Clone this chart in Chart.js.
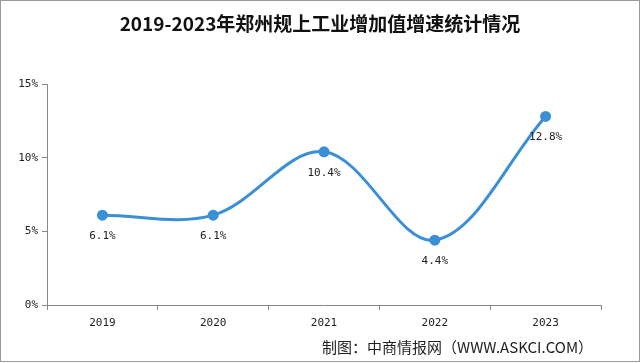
<!DOCTYPE html>
<html>
<head>
<meta charset="utf-8">
<script src="https://cdn.jsdelivr.net/npm/chart.js@4.4.0/dist/chart.umd.min.js"></script>
<style>
  html, body { margin: 0; padding: 0; background: #fff; }
  #wrap { position: relative; width: 640px; height: 363px; }
</style>
</head>
<body>
<div id="wrap"><canvas id="growthChart" width="640" height="363"></canvas></div>
<script>
const years = ['2019', '2020', '2021', '2022', '2023'];
const growth = [6.1, 6.1, 10.4, 4.4, 12.8];
const yTicks = [0, 5, 10, 15];
const titleText = '2019-2023年郑州规上工业增加值增速统计情况';
const sourceText = '制图：中商情报网（WWW.ASKCI.COM）';

const lineBlue = '#3a8fd6';
const monoFont = '"DejaVu Sans Mono", "Liberation Mono", monospace';

// title, source line, frame and the value labels under each point
const decor = {
    id: 'decor',
    afterDraw(chart) {
        const ctx = chart.ctx;
        ctx.save();
        ctx.strokeStyle = '#9a9a9a';
        ctx.lineWidth = 1;
        ctx.strokeRect(0.5, 0.5, 639, 361);

        ctx.fillStyle = '#111';
        ctx.textAlign = 'center';
        ctx.textBaseline = 'middle';
        ctx.font = 'bold 19px "Noto Sans CJK SC", sans-serif';
        ctx.fillText(titleText, 320, 24);

        ctx.font = '15px "Noto Sans CJK SC", sans-serif';
        ctx.textAlign = 'left';
        ctx.fillStyle = '#222';
        ctx.fillText(sourceText, 322, 347);

        const meta = chart.getDatasetMeta(0);
        ctx.font = '11px ' + monoFont;
        ctx.textAlign = 'center';
        ctx.fillStyle = '#222';
        meta.data.forEach((pt, i) => {
            ctx.fillText(growth[i].toFixed(1) + '%', pt.x, pt.y + 21);
        });
        ctx.restore();
    }
};

new Chart(document.getElementById('growthChart'), {
    type: 'line',
    data: {
        labels: years,
        datasets: [{
            data: growth,
            borderColor: lineBlue,
            backgroundColor: lineBlue,
            borderWidth: 3,
            tension: 0.35,
            pointRadius: 4,
            pointHoverRadius: 4,
            clip: false
        }]
    },
    options: {
        responsive: false,
        animation: false,
        layout: { padding: { left: 0, right: 39, top: 84, bottom: 0 } },
        plugins: { legend: { display: false }, tooltip: { enabled: false } },
        scales: {
            x: {
                offset: true,
                grid: { offset: true, drawOnChartArea: false, drawTicks: true, tickLength: 5, color: '#888' },
                border: { color: '#888', width: 1 },
                ticks: { color: '#222', font: { family: monoFont, size: 11 }, padding: 7 },
                afterFit(scale) { scale.height = 58; }
            },
            y: {
                min: 0,
                max: 15,
                afterBuildTicks(scale) { scale.ticks = yTicks.map(v => ({ value: v })); },
                grid: { drawOnChartArea: false, drawTicks: true, tickLength: 5, color: '#888' },
                border: { color: '#888', width: 1 },
                ticks: { color: '#222', font: { family: monoFont, size: 11 }, padding: 4, callback: v => v + '%' },
                afterFit(scale) { scale.width = 47; }
            }
        }
    },
    plugins: [decor]
});
</script>
</body>
</html>
